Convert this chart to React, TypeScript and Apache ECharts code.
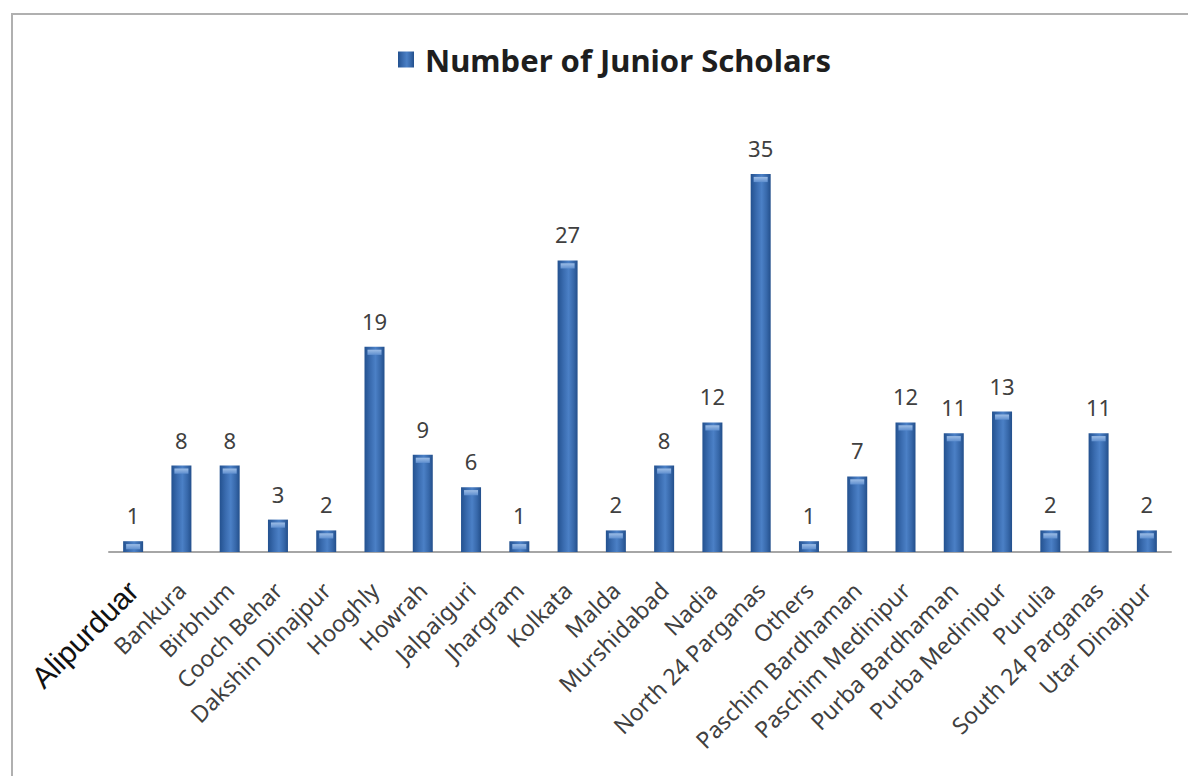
import React, { useEffect, useRef } from "react";
import * as echarts from "echarts";

const categories = [
  "Alipurduar", "Bankura", "Birbhum", "Cooch Behar", "Dakshin Dinajpur", "Hooghly",
  "Howrah", "Jalpaiguri", "Jhargram", "Kolkata", "Malda", "Murshidabad", "Nadia",
  "North 24 Parganas", "Others", "Paschim Bardhaman", "Paschim Medinipur",
  "Purba Bardhaman", "Purba Medinipur", "Purulia", "South 24 Parganas", "Utar Dinajpur",
];
const scholars = [1, 8, 8, 3, 2, 19, 9, 6, 1, 27, 2, 8, 12, 35, 1, 7, 12, 11, 13, 2, 11, 2];
const seriesName = "Number of Junior Scholars";

export default function App() {
  const ref = useRef<HTMLDivElement>(null);
  useEffect(() => {
    if (!ref.current) return;
    const chart = echarts.init(ref.current, null, { renderer: "svg" });
    const barColor = new echarts.graphic.LinearGradient(0, 0, 1, 0, [
      { offset: 0, color: "#23518f" },
      { offset: 0.3, color: "#3a6cb0" },
      { offset: 0.55, color: "#4b80c6" },
      { offset: 0.8, color: "#3768aa" },
      { offset: 1, color: "#234f8b" },
    ]);
    const capColor = new echarts.graphic.LinearGradient(0, 0, 0, 1, [
      { offset: 0, color: "#9dbde6" },
      { offset: 1, color: "#5f8fcf" },
    ]);
    chart.setOption({
      animation: false,
      backgroundColor: "#ffffff",
      graphic: [
        {
          type: "rect",
          shape: { x: 12, y: 14, width: 1400, height: 1000 },
          style: { fill: "none", stroke: "#b0b0b0", lineWidth: 2 },
          silent: true,
        },
      ],
      legend: {
        top: 39,
        left: 393,
        icon: "rect",
        itemWidth: 16,
        itemHeight: 16,
        data: [seriesName],
        textStyle: {
          fontSize: 31,
          fontWeight: "bold",
          color: "#1e1e1e",
          fontFamily: "Noto Sans",
          padding: [0, 0, 0, 6],
        },
      },
      grid: { left: 109, right: 17, top: 120, bottom: 224, containLabel: false },
      xAxis: {
        type: "category",
        data: categories,
        axisTick: { show: false },
        axisLine: { lineStyle: { color: "#a6a6a6", width: 2 } },
        axisLabel: {
          interval: 0,
          rotate: 45,
          margin: 34,
          fontSize: 23,
          color: "#404040",
          fontFamily: "Noto Sans",
          formatter: (v: string, i: number) => (i === 0 ? `{a|${v}}` : v),
          rich: {
            a: { fontSize: 30, fontFamily: "Liberation Sans", color: "#111111" },
          },
        },
      },
      yAxis: { type: "value", min: 0, max: 40, show: false, splitLine: { show: false } },
      series: [
        {
          name: seriesName,
          type: "bar",
          data: scholars,
          barWidth: 20,
          itemStyle: { color: barColor },
          label: {
            show: true,
            position: "top",
            distance: 15,
            fontSize: 22,
            color: "#404040",
            fontFamily: "Noto Sans",
          },
          z: 2,
        },
        {
          name: "cap",
          type: "pictorialBar",
          data: scholars,
          symbol: "rect",
          symbolPosition: "end",
          symbolSize: [14, 5],
          symbolOffset: [0, 3],
          itemStyle: { color: capColor },
          silent: true,
          z: 3,
        },
      ],
    });
    return () => chart.dispose();
  }, []);
  return (
    <div
      ref={ref}
      style={{ position: "fixed", left: 0, top: 0, width: 1188, height: 776 }}
    />
  );
}
